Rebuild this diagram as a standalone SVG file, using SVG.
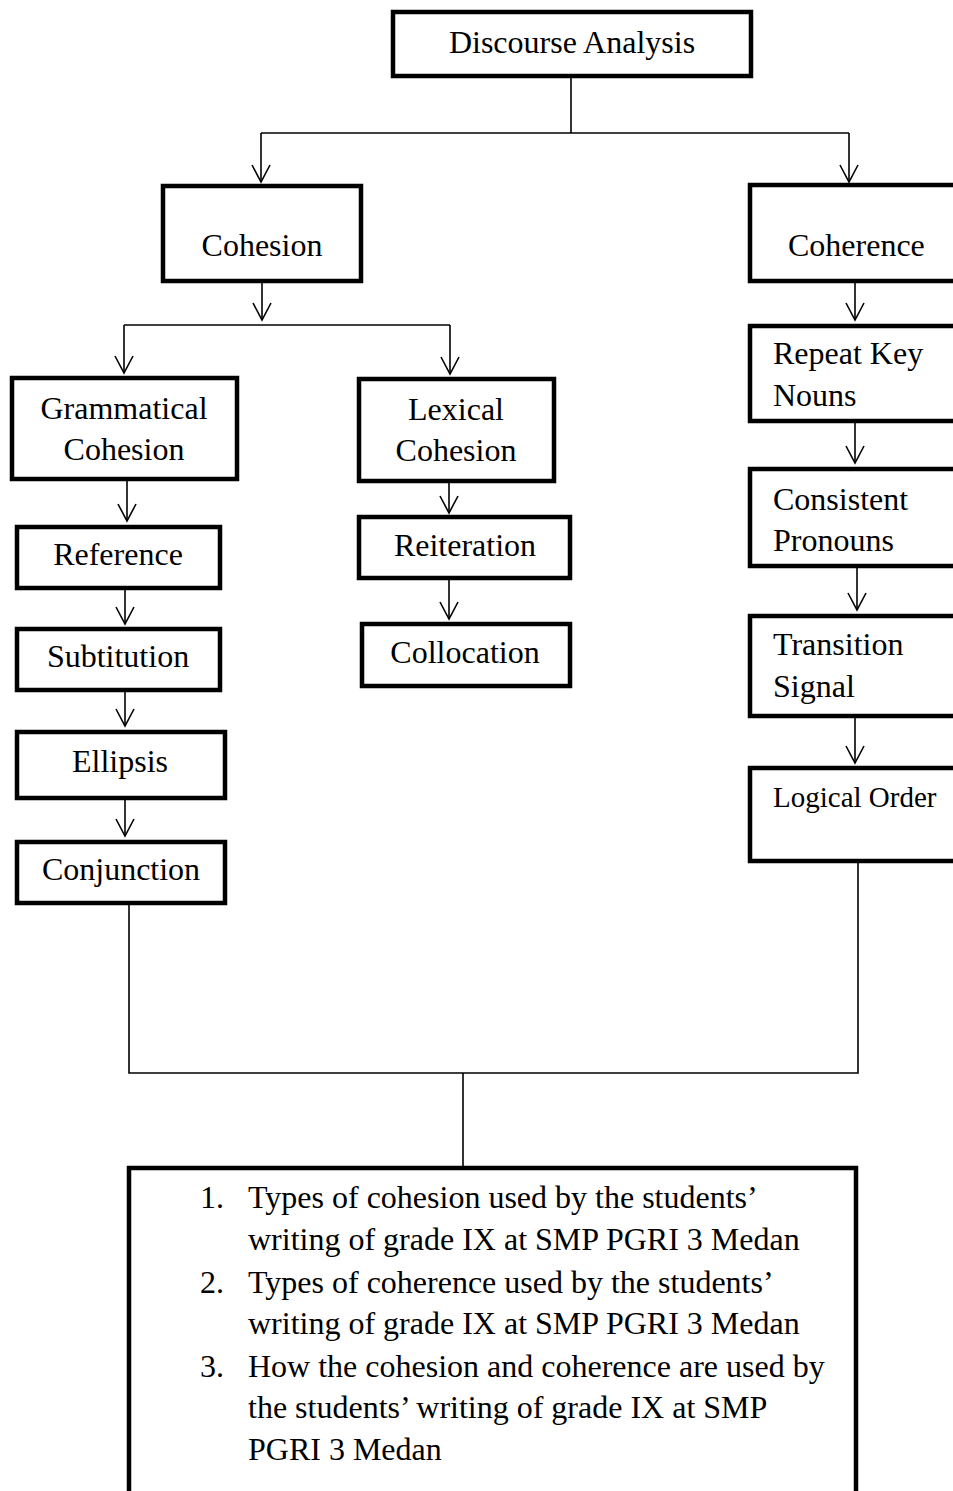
<svg xmlns="http://www.w3.org/2000/svg" width="953" height="1491" viewBox="0 0 953 1491">
<style>
.box{fill:#fff;stroke:#000;stroke-width:4.5}
.ln{fill:none;stroke:#000;stroke-width:1.6}
text{font-family:"Liberation Serif","Times New Roman",serif;font-size:32px;fill:#000}
.c{text-anchor:middle}
</style>
<defs>
<marker id="ah" markerUnits="userSpaceOnUse" markerWidth="20" markerHeight="24" viewBox="-18 -11 20 22" refX="0" refY="0" orient="auto" overflow="visible">
<path d="M-17,-9 L0,0 L-17,9" fill="none" stroke="#000" stroke-width="1.6"/>
</marker>
</defs>
<rect width="953" height="1491" fill="#fff"/>
<g id="connectors">
<path class="ln" d="M571,78 V133"/>
<path class="ln" d="M261,133 H849"/>
<path class="ln" d="M261,133 V182" marker-end="url(#ah)"/>
<path class="ln" d="M849,133 V182" marker-end="url(#ah)"/>
<path class="ln" d="M262,283 V320" marker-end="url(#ah)"/>
<path class="ln" d="M124,325 H450"/>
<path class="ln" d="M124,325 V373" marker-end="url(#ah)"/>
<path class="ln" d="M450,325 V374" marker-end="url(#ah)"/>
<path class="ln" d="M127,481 V521" marker-end="url(#ah)"/>
<path class="ln" d="M125,590 V624" marker-end="url(#ah)"/>
<path class="ln" d="M125,692 V726" marker-end="url(#ah)"/>
<path class="ln" d="M125,800 V836" marker-end="url(#ah)"/>
<path class="ln" d="M449,483 V513" marker-end="url(#ah)"/>
<path class="ln" d="M449,580 V619" marker-end="url(#ah)"/>
<path class="ln" d="M855,283 V320" marker-end="url(#ah)"/>
<path class="ln" d="M855,423 V463" marker-end="url(#ah)"/>
<path class="ln" d="M857,568 V610" marker-end="url(#ah)"/>
<path class="ln" d="M855,718 V763" marker-end="url(#ah)"/>
<path class="ln" d="M129,905 V1073 H858 V863"/>
<path class="ln" d="M463,1073 V1166"/>
</g>
<g id="discourse"><rect class="box" x="393" y="12" width="358" height="64"/><text class="c" x="572" y="53">Discourse Analysis</text></g>
<g id="cohesion"><rect class="box" x="163" y="186" width="198" height="95"/><text class="c" x="262" y="256">Cohesion</text></g>
<g id="coherence"><rect class="box" x="750" y="185" width="220" height="96"/><text x="788" y="256">Coherence</text></g>
<g id="grammatical"><rect class="box" x="12" y="378" width="225" height="101"/><text class="c" x="124" y="419">Grammatical</text><text class="c" x="124" y="460">Cohesion</text></g>
<g id="lexical"><rect class="box" x="359" y="379" width="195" height="102"/><text class="c" x="456" y="420">Lexical</text><text class="c" x="456" y="461">Cohesion</text></g>
<g id="repeat"><rect class="box" x="750" y="326" width="220" height="95"/><text x="773" y="364">Repeat Key</text><text x="773" y="406">Nouns</text></g>
<g id="reference"><rect class="box" x="17" y="527" width="203" height="61"/><text class="c" x="118" y="565">Reference</text></g>
<g id="subtitution"><rect class="box" x="17" y="629" width="203" height="61"/><text class="c" x="118" y="667">Subtitution</text></g>
<g id="ellipsis"><rect class="box" x="17" y="732" width="208" height="66"/><text class="c" x="120" y="772">Ellipsis</text></g>
<g id="conjunction"><rect class="box" x="17" y="842" width="208" height="61"/><text class="c" x="121" y="880">Conjunction</text></g>
<g id="reiteration"><rect class="box" x="359" y="517" width="211" height="61"/><text class="c" x="465" y="556">Reiteration</text></g>
<g id="collocation"><rect class="box" x="362" y="624" width="208" height="62"/><text class="c" x="465" y="663">Collocation</text></g>
<g id="consistent"><rect class="box" x="750" y="469" width="220" height="97"/><text x="773" y="510">Consistent</text><text x="773" y="551">Pronouns</text></g>
<g id="transition"><rect class="box" x="750" y="616" width="220" height="100"/><text x="773" y="655">Transition</text><text x="773" y="697">Signal</text></g>
<g id="logical"><rect class="box" x="750" y="768" width="220" height="93"/><text x="773" y="807" style="font-size:29px">Logical Order</text></g>
<g id="result"><rect class="box" x="129" y="1168" width="727" height="400"/>
<text x="200" y="1208">1.</text><text x="248" y="1208">Types of cohesion used by the students’</text>
<text x="248" y="1250">writing of grade IX at SMP PGRI 3 Medan</text>
<text x="200" y="1293">2.</text><text x="248" y="1293">Types of coherence used by the students’</text>
<text x="248" y="1334">writing of grade IX at SMP PGRI 3 Medan</text>
<text x="200" y="1377">3.</text><text x="248" y="1377">How the cohesion and coherence are used by</text>
<text x="248" y="1418">the students’ writing of grade IX at SMP</text>
<text x="248" y="1460">PGRI 3 Medan</text>
</g>
</svg>
